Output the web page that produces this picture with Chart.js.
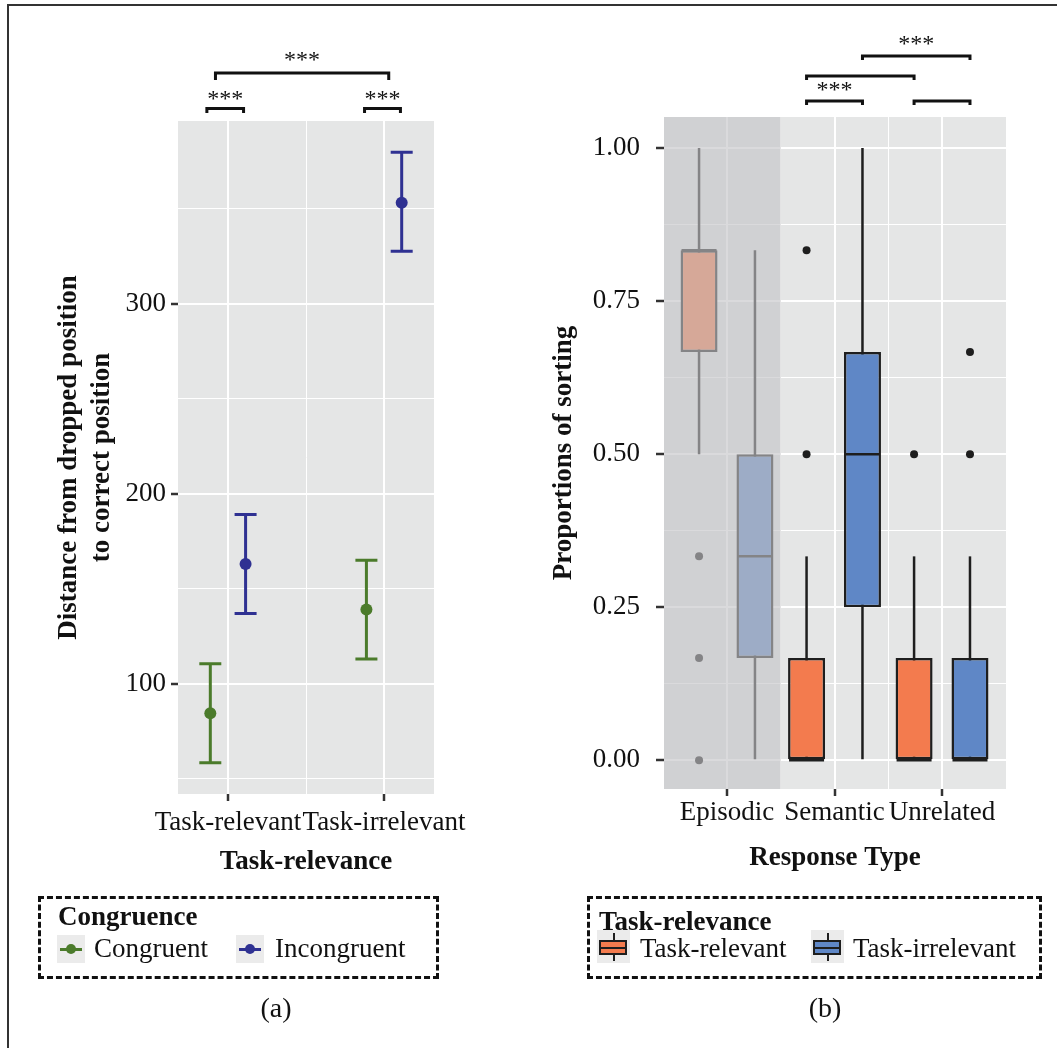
<!DOCTYPE html>
<html>
<head>
<meta charset="utf-8">
<script src="https://cdn.jsdelivr.net/npm/chart.js@4.4.1/dist/chart.umd.min.js"></script>
<style>
  html, body { margin: 0; padding: 0; background: #fff; overflow: hidden; }
  #page { position: relative; width: 1057px; height: 1048px; overflow: hidden;
          font-family: 'Liberation Serif', 'Times New Roman', serif; color: #111; }
  #frame { position: absolute; left: 7px; top: 4px; width: 1200px; height: 1200px; border: 2px solid #333; }
  canvas { position: absolute; top: 0; }
  .lg { position: absolute; border: 3px dashed #111; box-sizing: border-box; }
  .t { position: absolute; font-size: 27px; line-height: 27px; white-space: nowrap; }
  .b { font-weight: bold; }
  .key { position: absolute; background: #EBEBEB; }
  .key div { position: absolute; box-sizing: border-box; }
</style>
</head>
<body>
<div id="page">
  <div id="frame"></div>
  <canvas id="chartA" width="530" height="1048" style="left:0"></canvas>
  <canvas id="chartB" width="527" height="1048" style="left:530px"></canvas>

  <!-- legend (a) -->
  <div class="lg" style="left:38px;top:896px;width:401px;height:83px"></div>
  <div class="t b" style="left:58px;top:903px">Congruence</div>
  <div class="key" style="left:57px;top:935px;width:28px;height:28px">
    <div style="left:3px;top:12.5px;width:22px;height:3px;background:#4B7B2B"></div>
    <div style="left:9px;top:9px;width:10px;height:10px;border-radius:50%;background:#4B7B2B"></div>
  </div>
  <div class="t" style="left:94px;top:935px">Congruent</div>
  <div class="key" style="left:236px;top:935px;width:28px;height:28px">
    <div style="left:3px;top:12.5px;width:22px;height:3px;background:#2F3192"></div>
    <div style="left:9px;top:9px;width:10px;height:10px;border-radius:50%;background:#2F3192"></div>
  </div>
  <div class="t" style="left:275px;top:935px">Incongruent</div>

  <!-- legend (b) -->
  <div class="lg" style="left:587px;top:896px;width:455px;height:83px"></div>
  <div class="t b" style="left:599px;top:908px">Task-relevance</div>
  <div class="key" style="left:597px;top:930px;width:33px;height:33px">
    <div style="left:15.5px;top:3px;width:2.5px;height:28px;background:#1e1e1e"></div>
    <div style="left:2px;top:10px;width:28px;height:15px;border:2.5px solid #1e1e1e;background:#F37B4E"></div>
    <div style="left:2px;top:16.5px;width:28px;height:2.5px;background:#1e1e1e"></div>
  </div>
  <div class="t" style="left:640px;top:935px">Task-relevant</div>
  <div class="key" style="left:811px;top:930px;width:33px;height:33px">
    <div style="left:15.5px;top:3px;width:2.5px;height:28px;background:#1e1e1e"></div>
    <div style="left:2px;top:10px;width:28px;height:15px;border:2.5px solid #1e1e1e;background:#5F87C6"></div>
    <div style="left:2px;top:16.5px;width:28px;height:2.5px;background:#1e1e1e"></div>
  </div>
  <div class="t" style="left:853px;top:935px">Task-irrelevant</div>

  <!-- captions -->
  <div class="t" style="left:276px;top:994px;font-size:28px;line-height:28px;transform:translateX(-50%)">(a)</div>
  <div class="t" style="left:825px;top:994px;font-size:28px;line-height:28px;transform:translateX(-50%)">(b)</div>
</div>

<script>
// ---- panel (a): mean distance with error bars
const relevanceLevels = ['Task-relevant', 'Task-irrelevant'];
const congruentMean = [84.5, 139];
const congruentLow = [58.5, 113];
const congruentHigh = [110.5, 165];
const incongruentMean = [163, 353];
const incongruentLow = [137, 327.5];
const incongruentHigh = [189, 379.5];
const distanceTicks = [50, 100, 150, 200, 250, 300, 350];

// ---- panel (b): box plots of sorting proportions
const responseTypes = ['Episodic', 'Semantic', 'Unrelated'];
const relMin = [0.5, 0, 0];
const relQ1 = [0.667, 0, 0];
const relMedian = [0.833, 0, 0];
const relQ3 = [0.833, 0.167, 0.167];
const relMax = [1, 0.333, 0.333];
const relOutliers = [[0.333, 0.167, 0], [0.5, 0.833], [0.5]];
const irrMin = [0, 0, 0];
const irrQ1 = [0.167, 0.25, 0];
const irrMedian = [0.333, 0.5, 0];
const irrQ3 = [0.5, 0.667, 0.167];
const irrMax = [0.833, 1, 0.333];
const irrOutliers = [[], [], [0.5, 0.667]];
const proportionTicks = [0, 0.125, 0.25, 0.375, 0.5, 0.625, 0.75, 0.875, 1];

const GREEN = '#4B7B2B', NAVY = '#2F3192';
const ORANGE = '#F37B4E', BLUE = '#5F87C6', INK = '#1e1e1e';
const FS = 27;

Chart.defaults.font.family = "'Liberation Serif', 'Times New Roman', serif";
Chart.defaults.color = '#111';

const panelBg = {
  id: 'panelBg',
  beforeDraw(chart, args, opts) {
    const { ctx, chartArea: a } = chart;
    ctx.save();
    ctx.fillStyle = opts.color;
    ctx.fillRect(a.left, a.top, a.width, a.height);
    ctx.restore();
  }
};

const errorBars = {
  id: 'errorBars',
  beforeDatasetsDraw(chart) {
    const { ctx } = chart;
    const y = chart.scales.y;
    chart.data.datasets.forEach((ds, i) => {
      if (!ds.errLow) return;
      const meta = chart.getDatasetMeta(i);
      ctx.save();
      ctx.strokeStyle = ds.borderColor;
      ctx.lineWidth = 3;
      meta.data.forEach((pt, j) => {
        const yl = y.getPixelForValue(ds.errLow[j]);
        const yh = y.getPixelForValue(ds.errHigh[j]);
        ctx.beginPath();
        ctx.moveTo(pt.x, yl); ctx.lineTo(pt.x, yh);
        ctx.moveTo(pt.x - 11, yl); ctx.lineTo(pt.x + 11, yl);
        ctx.moveTo(pt.x - 11, yh); ctx.lineTo(pt.x + 11, yh);
        ctx.stroke();
      });
      ctx.restore();
    });
  }
};

// significance brackets above the panel
const sigBrackets = {
  id: 'sigBrackets',
  afterDraw(chart, args, opts) {
    const { ctx } = chart;
    const x = chart.scales.x;
    ctx.save();
    ctx.strokeStyle = '#111';
    ctx.fillStyle = '#111';
    ctx.lineWidth = 3;
    ctx.font = '24px "Liberation Serif"';
    ctx.textAlign = 'center';
    ctx.textBaseline = 'middle';
    (opts.items || []).forEach(b => {
      const x1 = x.getPixelForValue(b.from), x2 = x.getPixelForValue(b.to);
      ctx.beginPath();
      ctx.moveTo(x1, b.y + b.drop);
      ctx.lineTo(x1, b.y);
      ctx.lineTo(x2, b.y);
      ctx.lineTo(x2, b.y + b.drop);
      ctx.stroke();
      if (b.label) ctx.fillText(b.label, (x1 + x2) / 2, b.labelY);
    });
    ctx.restore();
  }
};

// grey wash over the Episodic group
const episodicShade = {
  id: 'episodicShade',
  afterDatasetsDraw(chart, args, opts) {
    const { ctx, chartArea: a } = chart;
    const xr = chart.scales.x.getPixelForValue(opts.to);
    ctx.save();
    ctx.fillStyle = opts.color;
    ctx.fillRect(a.left, a.top, xr - a.left, a.height);
    ctx.restore();
  }
};

function gridStyle(isMajor, tickLen) {
  return {
    color: '#fff',
    lineWidth: c => (c.tick && isMajor(c.tick.value)) ? 2 : 1,
    tickColor: c => (c.tick && isMajor(c.tick.value)) ? '#333' : 'transparent',
    tickWidth: c => (c.tick && isMajor(c.tick.value)) ? 2.5 : 0,
    tickLength: tickLen,
    drawTicks: true
  };
}

// ---------- chart (a)
const dodgeA = 0.113;
new Chart(document.getElementById('chartA'), {
  type: 'scatter',
  data: {
    datasets: [
      {
        label: 'Congruent',
        data: relevanceLevels.map((_, i) => ({ x: i + 1 - dodgeA, y: congruentMean[i] })),
        errLow: congruentLow, errHigh: congruentHigh,
        backgroundColor: GREEN, borderColor: GREEN, pointRadius: 6, pointBorderWidth: 0
      },
      {
        label: 'Incongruent',
        data: relevanceLevels.map((_, i) => ({ x: i + 1 + dodgeA, y: incongruentMean[i] })),
        errLow: incongruentLow, errHigh: incongruentHigh,
        backgroundColor: NAVY, borderColor: NAVY, pointRadius: 6, pointBorderWidth: 0
      }
    ]
  },
  options: {
    responsive: false,
    animation: false,
    events: [],
    layout: { padding: { left: 0, top: 121, right: 96, bottom: 170 } },
    plugins: {
      legend: { display: false },
      tooltip: { enabled: false },
      panelBg: { color: '#E5E6E6' },
      sigBrackets: {
        items: [
          { from: 0.92, to: 2.03, y: 73, drop: 7, label: '***', labelY: 61 },
          { from: 0.865, to: 1.1, y: 108.5, drop: 4.5, label: '***', labelY: 100 },
          { from: 1.875, to: 2.105, y: 108.5, drop: 4.5, label: '***', labelY: 100 }
        ]
      }
    },
    scales: {
      x: {
        type: 'linear', min: 0.68, max: 2.32, bounds: 'data', offset: false,
        afterBuildTicks: s => { s.ticks = [1, 1.5, 2].map(v => ({ value: v })); },
        afterFit: s => { s.height = 84; },
        grid: gridStyle(v => Number.isInteger(v), 7),
        border: { display: false },
        ticks: {
          callback: v => Number.isInteger(v) ? relevanceLevels[v - 1] : '',
          font: { size: FS }, padding: 6, maxRotation: 0, autoSkip: false, color: '#111'
        },
        title: { display: true, text: 'Task-relevance', color: '#111',
                 font: { size: FS, weight: 'bold' }, padding: { top: 0, bottom: 0 } }
      },
      y: {
        type: 'linear', min: 42, max: 396, bounds: 'data',
        afterBuildTicks: s => { s.ticks = distanceTicks.map(v => ({ value: v })); },
        afterFit: s => { s.width = 178; },
        grid: gridStyle(v => v % 100 === 0, 7),
        border: { display: false },
        ticks: {
          callback: v => v % 100 === 0 ? String(v) : '',
          font: { size: FS }, padding: 5, color: '#111'
        },
        title: { display: true, text: ['Distance from dropped position', 'to correct position'],
                 color: '#111', font: { size: FS, weight: 'bold' }, padding: { top: 53, bottom: 0 } }
      }
    }
  },
  plugins: [panelBg, errorBars, sigBrackets]
});

// ---------- chart (b)
const dodgeB = 0.26;
const posRel = i => i + 1 - dodgeB;
const posIrr = i => i + 1 + dodgeB;
const outlierPoints = [];
relOutliers.forEach((list, i) => list.forEach(v => outlierPoints.push({ x: posRel(i), y: v })));
irrOutliers.forEach((list, i) => list.forEach(v => outlierPoints.push({ x: posIrr(i), y: v })));

new Chart(document.getElementById('chartB'), {
  type: 'bar',
  data: {
    datasets: [
      { type: 'bar', label: 'whisker-rel', order: 5, grouped: false, maxBarThickness: 2.5,
        data: responseTypes.map((_, i) => ({ x: posRel(i), y: [relMin[i], relMax[i]] })),
        backgroundColor: INK, borderWidth: 0 },
      { type: 'bar', label: 'whisker-irr', order: 5, grouped: false, maxBarThickness: 2.5,
        data: responseTypes.map((_, i) => ({ x: posIrr(i), y: [irrMin[i], irrMax[i]] })),
        backgroundColor: INK, borderWidth: 0 },
      { type: 'bar', label: 'Task-relevant', order: 4, grouped: false, maxBarThickness: 37,
        data: responseTypes.map((_, i) => ({ x: posRel(i), y: [relQ1[i], relQ3[i]] })),
        backgroundColor: ORANGE, borderColor: INK, borderWidth: 2.5, borderSkipped: false },
      { type: 'bar', label: 'Task-irrelevant', order: 4, grouped: false, maxBarThickness: 37,
        data: responseTypes.map((_, i) => ({ x: posIrr(i), y: [irrQ1[i], irrQ3[i]] })),
        backgroundColor: BLUE, borderColor: INK, borderWidth: 2.5, borderSkipped: false },
      { type: 'scatter', label: 'median-rel', order: 2,
        data: responseTypes.map((_, i) => ({ x: posRel(i), y: relMedian[i] })),
        pointStyle: 'line', pointRadius: 17.5, pointBorderWidth: 2.5, pointBorderColor: INK },
      { type: 'scatter', label: 'median-irr', order: 2,
        data: responseTypes.map((_, i) => ({ x: posIrr(i), y: irrMedian[i] })),
        pointStyle: 'line', pointRadius: 17.5, pointBorderWidth: 2.5, pointBorderColor: INK },
      { type: 'scatter', label: 'outliers', order: 1, data: outlierPoints,
        pointRadius: 4, pointBackgroundColor: INK, pointBorderWidth: 0 }
    ]
  },
  options: {
    responsive: false,
    animation: false,
    events: [],
    layout: { padding: { left: 0, top: 117, right: 51, bottom: 174 } },
    plugins: {
      legend: { display: false },
      tooltip: { enabled: false },
      panelBg: { color: '#E5E6E6' },
      episodicShade: { to: 1.5, color: 'rgba(195,196,198,0.62)' },
      sigBrackets: {
        items: [
          { from: 2.26, to: 3.26, y: 56, drop: 4, label: '***', labelY: 45 },
          { from: 1.74, to: 2.74, y: 76, drop: 4, label: '', labelY: 0 },
          { from: 1.74, to: 2.26, y: 101, drop: 4, label: '***', labelY: 91 },
          { from: 2.74, to: 3.26, y: 101, drop: 4, label: '', labelY: 0 }
        ]
      }
    },
    scales: {
      x: {
        type: 'linear', min: 0.414, max: 3.595, bounds: 'data', offset: false,
        afterBuildTicks: s => { s.ticks = [1, 1.5, 2, 2.5, 3].map(v => ({ value: v })); },
        afterFit: s => { s.height = 85; },
        grid: Object.assign(gridStyle(v => Number.isInteger(v), 7), { offset: false }),
        border: { display: false },
        ticks: {
          callback: v => Number.isInteger(v) ? responseTypes[v - 1] : '',
          font: { size: FS }, padding: 1, maxRotation: 0, autoSkip: false, color: '#111'
        },
        title: { display: true, text: 'Response Type', color: '#111',
                 font: { size: FS, weight: 'bold' }, padding: { top: 0, bottom: 0 } }
      },
      y: {
        type: 'linear', min: -0.047, max: 1.0507, bounds: 'data',
        afterBuildTicks: s => { s.ticks = proportionTicks.map(v => ({ value: v })); },
        afterFit: s => { s.width = 134; },
        grid: gridStyle(v => Math.abs(v * 4 - Math.round(v * 4)) < 1e-6, 8),
        border: { display: false },
        ticks: {
          callback: v => Math.abs(v * 4 - Math.round(v * 4)) < 1e-6 ? v.toFixed(2) : '',
          font: { size: FS }, padding: 16, color: '#111'
        },
        title: { display: true, text: 'Proportions of sorting', color: '#111',
                 font: { size: FS, weight: 'bold' }, padding: { top: 18, bottom: 0 } }
      }
    }
  },
  plugins: [panelBg, episodicShade, sigBrackets]
});
</script>
</body>
</html>
